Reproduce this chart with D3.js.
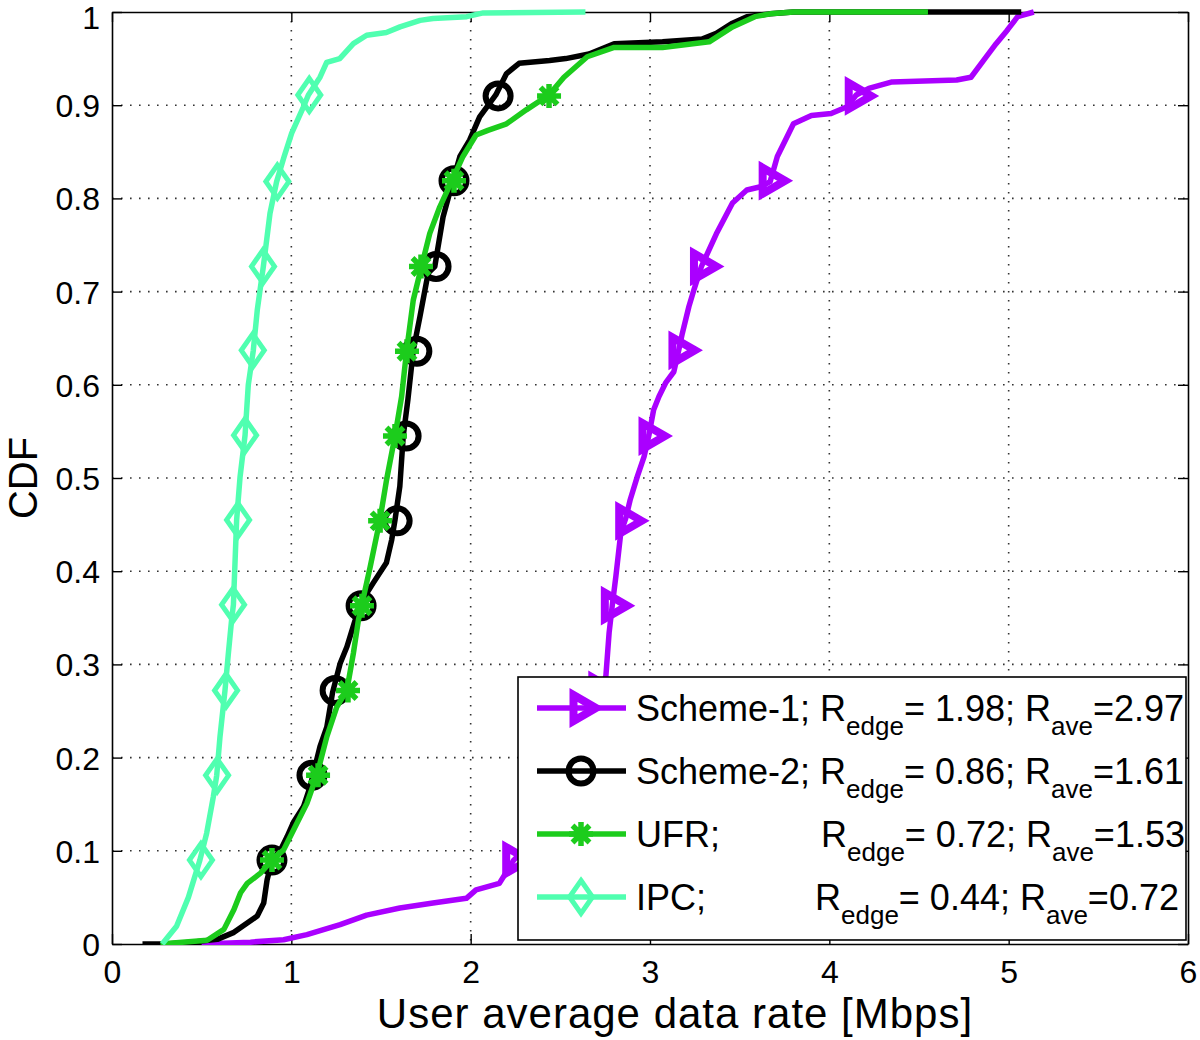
<!DOCTYPE html>
<html><head><meta charset="utf-8">
<script src="https://cdn.jsdelivr.net/npm/d3@7"></script>
<style>body{margin:0;background:#fff}svg{display:block}text{font-family:"Liberation Sans",Arial,sans-serif;fill:#000}</style>
</head><body>
<script>
// ---- data ----
const xTicks = [0,1,2,3,4,5,6];
const yTicks = [0,0.1,0.2,0.3,0.4,0.5,0.6,0.7,0.8,0.9,1];
const xTickLabels = ["0","1","2","3","4","5","6"];
const yTickLabels = ["0","0.1","0.2","0.3","0.4","0.5","0.6","0.7","0.8","0.9","1"];
const seriesNames = ["Scheme-1;","Scheme-2;","UFR;","IPC;"];
const rEdge = ["1.98","0.86","0.72","0.44"];
const rAve = ["2.97","1.61","1.53","0.72"];

const scheme1 = [[0.5,0],[0.772,0.002],[0.957,0.0046],[1.087,0.01],[1.272,0.0207],[1.42,0.031],[1.605,0.0386],[1.79,0.044],[1.976,0.049],[2.03,0.058],[2.16,0.065],[2.24,0.09],[2.4,0.12],[2.55,0.15],[2.63,0.2],[2.7,0.26],[2.754,0.2875],[2.772,0.334],[2.79,0.364],[2.81,0.395],[2.837,0.441],[2.865,0.457],[2.89,0.477],[2.93,0.502],[2.967,0.523],[2.994,0.546],[3.02,0.573],[3.05,0.5875],[3.087,0.602],[3.133,0.614],[3.16,0.637],[3.18,0.655],[3.217,0.684],[3.245,0.702],[3.287,0.727],[3.37,0.762],[3.46,0.795],[3.54,0.809],[3.617,0.8125],[3.67,0.818],[3.71,0.845],[3.8,0.88],[3.9,0.889],[4.01,0.891],[4.096,0.898],[4.15,0.911],[4.22,0.918],[4.35,0.925],[4.71,0.927],[4.79,0.93],[4.86,0.948],[4.93,0.966],[4.99,0.98],[5.05,0.995],[5.14,1.0]];
const scheme2 = [[0.17,0],[0.3,0],[0.45,0.002],[0.587,0.005],[0.68,0.0125],[0.754,0.0225],[0.81,0.03],[0.846,0.044],[0.865,0.069],[0.893,0.09],[0.94,0.101],[0.976,0.115],[1.013,0.131],[1.068,0.1475],[1.105,0.169],[1.12,0.181],[1.16,0.212],[1.198,0.233],[1.23,0.27],[1.272,0.301],[1.31,0.319],[1.355,0.347],[1.38,0.364],[1.457,0.3875],[1.53,0.409],[1.56,0.434],[1.578,0.455],[1.605,0.491],[1.624,0.545],[1.65,0.584],[1.68,0.637],[1.717,0.673],[1.763,0.72],[1.8,0.727],[1.846,0.78],[1.9,0.818],[1.94,0.845],[1.994,0.8625],[2.05,0.8875],[2.14,0.911],[2.2,0.934],[2.27,0.945],[2.44,0.948],[2.53,0.95],[2.66,0.955],[2.8,0.966],[3.07,0.968],[3.29,0.971],[3.37,0.977],[3.46,0.988],[3.54,0.995],[3.67,0.998],[3.8,1.0],[5.07,1.0]];
const ufr = [[0.27,0],[0.531,0.004],[0.624,0.0157],[0.68,0.037],[0.717,0.055],[0.754,0.065],[0.828,0.076],[0.893,0.09],[0.957,0.101],[1.013,0.1225],[1.087,0.151],[1.142,0.181],[1.198,0.2225],[1.254,0.2546],[1.31,0.2725],[1.346,0.312],[1.374,0.3475],[1.393,0.364],[1.44,0.405],[1.494,0.455],[1.531,0.498],[1.578,0.545],[1.615,0.5875],[1.643,0.637],[1.68,0.691],[1.726,0.727],[1.772,0.7625],[1.828,0.791],[1.893,0.818],[1.957,0.845],[2.03,0.868],[2.096,0.873],[2.2,0.88],[2.31,0.895],[2.436,0.911],[2.52,0.93],[2.65,0.952],[2.8,0.962],[3.07,0.962],[3.33,0.968],[3.46,0.984],[3.585,0.995],[3.67,0.998],[3.8,1.0],[4.55,1.0]];
const ipc = [[0.28,0],[0.36,0.019],[0.426,0.05],[0.49,0.09],[0.528,0.119],[0.565,0.158],[0.584,0.181],[0.602,0.222],[0.63,0.272],[0.649,0.312],[0.667,0.348],[0.677,0.364],[0.695,0.455],[0.714,0.501],[0.742,0.546],[0.76,0.6],[0.788,0.637],[0.81,0.68],[0.844,0.727],[0.881,0.784],[0.918,0.818],[0.96,0.845],[1.002,0.87],[1.067,0.898],[1.095,0.911],[1.16,0.93],[1.197,0.946],[1.27,0.95],[1.346,0.966],[1.42,0.975],[1.53,0.978],[1.606,0.984],[1.718,0.991],[1.79,0.993],[1.978,0.995],[2.07,0.999],[2.64,1.0]];

const scheme1Markers = [[2.24,0.09],[2.62,0.181],[2.72,0.272],[2.79,0.363],[2.87,0.454],[3.0,0.545],[3.167,0.637],[3.287,0.727],[3.67,0.819],[4.15,0.91]];
const scheme2Markers = [[0.892,0.09],[1.115,0.181],[1.244,0.272],[1.389,0.363],[1.59,0.454],[1.64,0.545],[1.70,0.636],[1.807,0.727],[1.907,0.819],[2.153,0.91]];
const ufrMarkers = [[0.892,0.09],[1.149,0.181],[1.316,0.272],[1.394,0.363],[1.495,0.454],[1.578,0.545],[1.645,0.636],[1.723,0.727],[1.907,0.819],[2.437,0.91]];
const ipcMarkers = [[0.496,0.09],[0.586,0.181],[0.636,0.272],[0.675,0.364],[0.703,0.455],[0.742,0.546],[0.785,0.637],[0.842,0.727],[0.922,0.818],[1.1,0.911]];

const colors = ["#aa00ff","#000000","#1ccc1c","#50ffb0"];
const markerTypes = ["tri","circle","star","diamond"];

// ---- layout ----
const W=1200,H=1040;
const M={left:112,top:12,right:12,bottom:96};
const svg=d3.select("body").append("svg").attr("width",W).attr("height",H);
const x=d3.scaleLinear().domain([0,6]).range([M.left,W-M.right]);
const y=d3.scaleLinear().domain([0,1]).range([H-M.bottom,M.top]);
const x0=x(0),x1=x(6),y0=y(0),y1=y(1);

// grid
const grid=svg.append("g").attr("stroke","#333").attr("stroke-width",1.6).attr("stroke-dasharray","1.6,7.4");
grid.selectAll(".gx").data(xTicks.slice(1,-1)).enter().append("line")
  .attr("x1",d=>x(d)).attr("x2",d=>x(d)).attr("y1",y1).attr("y2",y0);
grid.selectAll(".gy").data(yTicks.slice(1,-1)).enter().append("line")
  .attr("y1",d=>y(d)).attr("y2",d=>y(d)).attr("x1",x0).attr("x2",x1);

// axes (MATLAB box with inward ticks)
const tk=10;
const axB=svg.append("g").attr("transform",`translate(0,${y0})`)
  .call(d3.axisBottom(x).tickValues(xTicks).tickFormat((d,i)=>xTickLabels[i]).tickSizeInner(-tk).tickSizeOuter(0).tickPadding(16));
const axT=svg.append("g").attr("transform",`translate(0,${y1})`)
  .call(d3.axisTop(x).tickValues(xTicks).tickFormat("").tickSizeInner(-tk).tickSizeOuter(0));
const axL=svg.append("g").attr("transform",`translate(${x0},0)`)
  .call(d3.axisLeft(y).tickValues(yTicks).tickFormat((d,i)=>yTickLabels[i]).tickSizeInner(-tk).tickSizeOuter(0).tickPadding(12));
const axR=svg.append("g").attr("transform",`translate(${x1},0)`)
  .call(d3.axisRight(y).tickValues(yTicks).tickFormat("").tickSizeInner(-tk).tickSizeOuter(0));
[axB,axT,axL,axR].forEach(a=>{a.select(".domain").attr("stroke","#000").attr("stroke-width",1.6);
  a.selectAll(".tick line").attr("stroke","#000").attr("stroke-width",1.4);
  a.selectAll("text").attr("font-family",'"Liberation Sans",Arial,sans-serif').attr("font-size",32).attr("fill","#000");});
axB.selectAll("text").attr("dy","0.71em");
axL.selectAll("text").attr("dy","0.36em");
axL.selectAll(".tick").filter(d=>d===1).select("text").attr("dy","0.5em");

// clip for curves
svg.append("clipPath").attr("id","clip").append("rect").attr("x",x0-20).attr("y",y1-20).attr("width",x1-x0+40).attr("height",y0-y1+21);

const line=d3.line().x(d=>x(d[0])).y(d=>y(d[1]));
const allSeries=[scheme1,scheme2,ufr,ipc];
const allMarkers=[scheme1Markers,scheme2Markers,ufrMarkers,ipcMarkers];

function drawMarker(g,type,color){
  if(type==="tri"){
    const R=15; // equilateral pointing right, centroid at origin
    g.append("path").attr("d",`M${R},0 L${-R/2},${-R*0.866} L${-R/2},${R*0.866} Z`)
     .attr("fill","none").attr("stroke",color).attr("stroke-width",8).attr("stroke-linejoin","miter");
  } else if(type==="circle"){
    g.append("circle").attr("r",12.5).attr("fill","none").attr("stroke",color).attr("stroke-width",6);
  } else if(type==="diamond"){
    g.append("path").attr("d","M0,-16.5 L11.5,0 L0,16.5 L-11.5,0 Z").attr("fill","none").attr("stroke",color).attr("stroke-width",5);
  } else if(type==="star"){
    const r=12, d=8.5;
    g.append("path").attr("d",`M0,${-r}V${r}M${-r},0H${r}M${-d},${-d}L${d},${d}M${-d},${d}L${d},${-d}`)
     .attr("stroke",color).attr("stroke-width",5.5);
  }
}

const plot=svg.append("g").attr("clip-path","url(#clip)");
allSeries.forEach((s,i)=>{
  const g=plot.append("g");
  g.append("path").datum(s).attr("d",line).attr("fill","none").attr("stroke",colors[i])
    .attr("stroke-width",5.5).attr("stroke-linejoin","round").attr("stroke-linecap","butt");
  allMarkers[i].forEach(m=>{
    const mg=g.append("g").attr("transform",`translate(${x(m[0])},${y(m[1])})`);
    drawMarker(mg,markerTypes[i],colors[i]);
  });
});

// axis labels
svg.append("text").attr("x",675).attr("y",1028).attr("text-anchor","middle").attr("font-size",42)
  .attr("letter-spacing",1).text("User average data rate [Mbps]");
svg.append("text").attr("transform",`translate(37,${(y0+y1)/2}) rotate(-90)`).attr("text-anchor","middle").attr("font-size",40).text("CDF");

// legend
const lg=svg.append("g");
lg.append("rect").attr("x",518).attr("y",677).attr("width",668).attr("height",263).attr("fill","#fff").attr("stroke","#000").attr("stroke-width",1.6);
const rowY=[708,771,834,897];
const rX=[null,null,821,815];
seriesNames.forEach((nm,i)=>{
  const cy=rowY[i];
  lg.append("line").attr("x1",537).attr("x2",626).attr("y1",cy).attr("y2",cy).attr("stroke",colors[i]).attr("stroke-width",5.5);
  drawMarker(lg.append("g").attr("transform",`translate(581,${cy})`),markerTypes[i],colors[i]);
  const t=lg.append("text").attr("x",636).attr("y",cy+13).attr("font-size",36);
  t.append("tspan").text(nm+" ");
  const r1=t.append("tspan").text("R");
  if(rX[i]!==null) r1.attr("x",rX[i]);
  t.append("tspan").attr("font-size",26).attr("dy",14).text("edge");
  t.append("tspan").attr("dy",-14).text("= "+rEdge[i]+"; R");
  t.append("tspan").attr("font-size",26).attr("dy",14).text("ave");
  t.append("tspan").attr("dy",-14).text("="+rAve[i]);
});
</script>
</body></html>
